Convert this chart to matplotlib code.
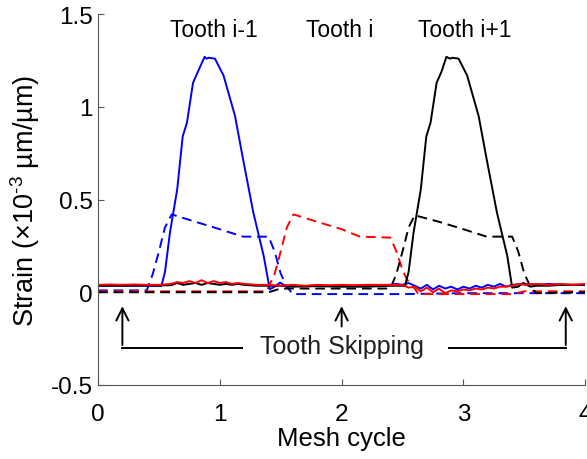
import numpy as np
import matplotlib

matplotlib.use('Agg')
import matplotlib.pyplot as plt

plt.rcParams['font.family'] = ['Liberation Sans', 'DejaVu Sans']
plt.rcParams['mathtext.fontset'] = 'custom'
plt.rcParams['mathtext.rm'] = 'Liberation Sans'

# ============================================================
# data (strain in 1e-3 um/um vs mesh cycle)
# ============================================================
x_prev_solid = [0, 0.1, 0.2, 0.3, 0.4, 0.5, 0.52, 0.55, 0.59, 0.65, 0.695, 0.73, 0.78, 0.82,
                0.875, 0.89, 0.91, 0.96, 1.03, 1.125, 1.19, 1.275, 1.36, 1.41, 1.45, 1.495,
                1.55, 1.6, 1.7, 1.8, 1.9, 2.0, 2.1, 2.2, 2.3, 2.4, 2.45, 2.5, 2.55, 2.6, 2.65,
                2.7, 2.75, 2.8, 2.85, 2.9, 2.95, 3.0, 3.05, 3.1, 3.15, 3.2, 3.25, 3.3, 3.35,
                3.4, 3.5, 3.6, 3.7, 3.8, 3.9, 4.0]
y_prev_solid = [0.035, 0.036, 0.035, 0.036, 0.035, 0.034, 0.034, 0.11, 0.32, 0.555, 0.84, 0.915,
                1.13, 1.19, 1.27, 1.26, 1.265, 1.26, 1.17, 0.95, 0.72, 0.43, 0.196, 0.016, 0.03,
                0.052, 0.03, 0.035, 0.033, 0.036, 0.034, 0.035, 0.036, 0.035, 0.037, 0.04, 0.045,
                0.04, 0.05, 0.035, 0.02, 0.04, 0.015, 0.035, 0.02, 0.03, 0.015, 0.03, 0.02, 0.035,
                0.025, 0.04, 0.03, 0.045, 0.03, 0.04, 0.045, 0.04, 0.045, 0.04, 0.04, 0.04]

x_prev_dash = [0, 0.4, 0.45, 0.5, 0.55, 0.605, 0.8, 1.0, 1.19, 1.4, 1.45, 1.5, 1.55, 1.6,
               2.0, 2.5, 3.0, 3.5, 4.0]
y_prev_dash = [0.01, 0.01, 0.1, 0.22, 0.35, 0.42, 0.38, 0.34, 0.30, 0.30, 0.22, 0.1, 0.03,
               -0.01, -0.01, -0.01, -0.005, -0.005, -0.005]

x_cur_solid = [0, 0.1, 0.2, 0.3, 0.4, 0.5, 0.6, 0.65, 0.7, 0.75, 0.8, 0.85, 0.9, 0.95, 1.0,
               1.05, 1.1, 1.15, 1.2, 1.3, 1.4, 1.5, 1.6, 1.7, 1.8, 1.9, 2.0, 2.1, 2.2, 2.3,
               2.4, 2.5, 2.55, 2.6, 2.65, 2.7, 2.75, 2.8, 2.85, 2.9, 2.95, 3.0, 3.05, 3.1,
               3.15, 3.2, 3.25, 3.3, 3.35, 3.4, 3.45, 3.5, 3.6, 3.7, 3.8, 3.9, 4.0]
y_cur_solid = [0.04, 0.042, 0.04, 0.042, 0.04, 0.04, 0.045, 0.055, 0.05, 0.06, 0.05, 0.065,
               0.05, 0.06, 0.05, 0.055, 0.045, 0.05, 0.045, 0.04, 0.04, 0.035, 0.04, 0.035,
               0.04, 0.038, 0.04, 0.038, 0.04, 0.04, 0.04, 0.04, 0.025, 0.03, 0.005, 0.025,
               0.0, 0.02, -0.005, 0.01, 0.005, 0.015, 0.01, 0.02, 0.015, 0.025, 0.02, 0.03,
               0.03, 0.035, 0.045, 0.04, 0.045, 0.04, 0.045, 0.04, 0.045]

x_cur_dash = [0, 1.0, 1.385, 1.45, 1.5, 1.55, 1.605, 1.8, 2.0, 2.15, 2.4, 2.45, 2.5, 2.535,
              2.6, 2.63, 3.0, 3.4, 3.5, 4.0]
y_cur_dash = [0.005, 0.005, 0.005, 0.1, 0.22, 0.35, 0.42, 0.38, 0.34, 0.30, 0.295, 0.22, 0.12,
              0.07, 0.02, -0.01, -0.01, -0.01, 0.005, 0.005]

x_next_solid = [0, 0.2, 0.4, 0.6, 0.65, 0.7, 0.75, 0.8, 0.85, 0.9, 0.95, 1.0, 1.05, 1.1, 1.15,
                1.2, 1.3, 1.4, 1.5, 1.6, 1.8, 2.0, 2.2, 2.4, 2.5, 2.52, 2.55, 2.59, 2.65, 2.695,
                2.73, 2.78, 2.82, 2.86, 2.89, 2.91, 2.96, 3.03, 3.125, 3.19, 3.275, 3.36, 3.40,
                3.45, 3.49, 3.55, 3.6, 3.7, 3.8, 3.9, 4.0]
y_next_solid = [0.035, 0.035, 0.036, 0.038, 0.05, 0.04, 0.045, 0.05, 0.04, 0.05, 0.045, 0.04,
                0.045, 0.04, 0.045, 0.04, 0.035, 0.035, 0.035, 0.03, 0.033, 0.03, 0.03, 0.035,
                0.035, 0.034, 0.11, 0.32, 0.555, 0.84, 0.915, 1.13, 1.19, 1.27, 1.26, 1.265,
                1.26, 1.17, 0.95, 0.72, 0.43, 0.196, 0.025, 0.03, 0.05, 0.03, 0.035, 0.035,
                0.04, 0.04, 0.04]

x_next_dash = [0, 1.0, 1.4, 1.5, 1.6, 2.0, 2.4, 2.45, 2.5, 2.55, 2.6, 2.8, 3.0, 3.19, 3.4,
               3.45, 3.5, 3.55, 3.6, 4.0]
y_next_dash = [0.0, 0.0, 0.0, 0.02, 0.02, 0.02, 0.02, 0.1, 0.22, 0.35, 0.415, 0.38, 0.34,
               0.30, 0.30, 0.22, 0.1, 0.03, -0.005, 0.0]

tooth_labels = ['Tooth i-1', 'Tooth i', 'Tooth i+1']
tooth_label_x = [0.95, 1.98, 3.01]
skip_x = [0.2, 2.0, 3.84]

# ============================================================
# plot
# ============================================================
fig = plt.figure(figsize=(5.87, 4.6), dpi=100)
ax = fig.add_axes([0.167, 0.161, 0.83, 0.806])

lw = 1.4
dash = (5, 3)
ax.plot(x_prev_dash, y_prev_dash, color='#0000ff', lw=lw, dashes=dash)
ax.plot(x_cur_dash, y_cur_dash, color='#ff0000', lw=lw, dashes=dash)
ax.plot(x_next_dash, y_next_dash, color='black', lw=lw, dashes=dash)
ax.plot(x_prev_solid, y_prev_solid, color='#0000ff', lw=lw)
ax.plot(x_next_solid, y_next_solid, color='black', lw=lw)
ax.plot(x_cur_solid, y_cur_solid, color='#ff0000', lw=lw)

for lab, tx in zip(tooth_labels, tooth_label_x):
    ax.text(tx, 1.42, lab, ha='center', va='center', fontsize=16.5)

# tooth skipping arrows
tip_y = -0.06
base_y = -0.30
arrow_kw = dict(arrowstyle='->', color='black', lw=1.4, mutation_scale=22)
ax.annotate('', xy=(skip_x[0], tip_y), xytext=(skip_x[0], base_y), arrowprops=arrow_kw)
ax.plot([skip_x[0], 1.18], [base_y, base_y], color='black', lw=1.4)
ax.annotate('', xy=(skip_x[1], tip_y), xytext=(skip_x[1], -0.2), arrowprops=arrow_kw)
ax.annotate('', xy=(skip_x[2], tip_y), xytext=(skip_x[2], base_y), arrowprops=arrow_kw)
ax.plot([2.88, skip_x[2]], [base_y, base_y], color='black', lw=1.4)
ax.text(2.0, -0.29, 'Tooth Skipping', ha='center', va='center', fontsize=18, color='#231f20')

ax.set_xlim(0, 4)
ax.set_ylim(-0.5, 1.5)
ax.set_xticks([0, 1, 2, 3, 4])
ax.set_xticklabels(['0', '1', '2', '3', '4'])
ax.set_yticks([-0.5, 0, 0.5, 1, 1.5])
ax.set_yticklabels(['-0.5', '0', '0.5', '1', '1.5'])
ax.tick_params(direction='in', labelsize=17.5, length=4, color='#555555')
ax.tick_params(axis='x', pad=13)
ax.tick_params(axis='y', pad=4)
for side in ['top', 'right']:
    ax.spines[side].set_visible(False)
for side in ['left', 'bottom']:
    ax.spines[side].set_color('#555555')
ax.set_xlabel('Mesh cycle', fontsize=18.5, labelpad=1)
ax.set_ylabel('Strain (×10$^{\\text{-3}}$ µm/µm)', fontsize=19.5, labelpad=6)

fig.savefig('out.png', dpi=100)
